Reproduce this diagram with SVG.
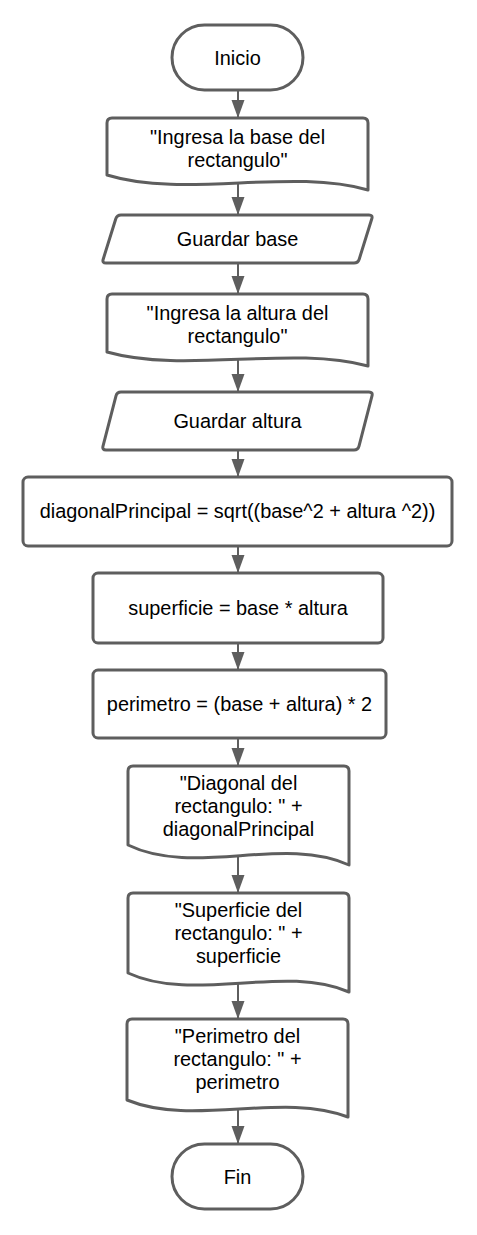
<svg xmlns="http://www.w3.org/2000/svg" width="477" height="1235" viewBox="0 0 477 1235">
<style>
.s{fill:#fff;stroke:#5e5e5e;stroke-width:3;stroke-linejoin:round}
.t{font-family:"Liberation Sans",Arial,sans-serif;font-size:19.9px;fill:#000;text-anchor:middle}
.c{stroke:#5e5e5e;stroke-width:2;fill:none}
</style>
<defs>
<marker id="ah" markerUnits="userSpaceOnUse" markerWidth="20" markerHeight="14" refX="18" refY="6.5" orient="auto">
<path d="M0,0 L18,6.5 L0,13 Z" fill="#5e5e5e"/>
</marker>
</defs>
<rect width="477" height="1235" fill="#fff"/>
<g id="connectors">
<line class="c" x1="238" y1="90" x2="238" y2="118" marker-end="url(#ah)"/>
<line class="c" x1="238" y1="183" x2="238" y2="215" marker-end="url(#ah)"/>
<line class="c" x1="238" y1="263" x2="238" y2="294" marker-end="url(#ah)"/>
<line class="c" x1="238" y1="359" x2="238" y2="392" marker-end="url(#ah)"/>
<line class="c" x1="238" y1="450" x2="238" y2="477" marker-end="url(#ah)"/>
<line class="c" x1="238" y1="546" x2="238" y2="573" marker-end="url(#ah)"/>
<line class="c" x1="238" y1="643" x2="238" y2="670" marker-end="url(#ah)"/>
<line class="c" x1="238" y1="738" x2="238" y2="766" marker-end="url(#ah)"/>
<line class="c" x1="238" y1="856" x2="238" y2="893" marker-end="url(#ah)"/>
<line class="c" x1="238" y1="983" x2="238" y2="1019" marker-end="url(#ah)"/>
<line class="c" x1="238" y1="1109" x2="238" y2="1144" marker-end="url(#ah)"/>
</g>
<g id="inicio">
<rect class="s" x="172" y="25" width="131" height="65" rx="32.5"/>
<text class="t" x="237.5" y="64.5">Inicio</text>
</g>
<g id="msg-base">
<path class="s" d="M107,123 Q107,118 112,118 H363 Q368,118 368,123 V190 C290,167.5 185,199 107,175 Z"/>
<text class="t" x="237.5" y="144">"Ingresa la base del</text>
<text class="t" x="237.5" y="166.5">rectangulo"</text>
</g>
<g id="guardar-base">
<path class="s" d="M121,215 H369 Q373,215 371.8,218.8 L359.2,259.2 Q358,263 354,263 H106 Q102,263 103.2,259.2 L115.8,218.8 Q117,215 121,215 Z"/>
<text class="t" x="237.5" y="246">Guardar base</text>
</g>
<g id="msg-altura">
<path class="s" d="M107,299 Q107,294 112,294 H363 Q368,294 368,299 V366 C290,345 185,374 107,352 Z"/>
<text class="t" x="237.5" y="320">"Ingresa la altura del</text>
<text class="t" x="237.5" y="342.5">rectangulo"</text>
</g>
<g id="guardar-altura">
<path class="s" d="M121,392 H369 Q373,392 372,395.9 L359,446.1 Q358,450 354,450 H106 Q102,450 103,446.1 L116,395.9 Q117,392 121,392 Z"/>
<text class="t" x="237.5" y="427.5">Guardar altura</text>
</g>
<g id="diagonal">
<rect class="s" x="23" y="477" width="429" height="69" rx="5"/>
<text class="t" x="237.5" y="518">diagonalPrincipal = sqrt((base^2 + altura ^2))</text>
</g>
<g id="superficie">
<rect class="s" x="93" y="573" width="290" height="70" rx="5"/>
<text class="t" x="238" y="615">superficie = base * altura</text>
</g>
<g id="perimetro">
<rect class="s" x="93" y="670" width="293" height="68" rx="5"/>
<text class="t" x="239.5" y="711">perimetro = (base + altura) * 2</text>
</g>
<g id="msg-diagonal">
<path class="s" d="M128,771 Q128,766 133,766 H344 Q349,766 349,771 V865 C283,835 194,877 128,845 Z"/>
<text class="t" x="238.5" y="790">"Diagonal del</text>
<text class="t" x="238.5" y="813">rectangulo: " +</text>
<text class="t" x="238.5" y="836">diagonalPrincipal</text>
</g>
<g id="msg-superficie">
<path class="s" d="M128,898 Q128,893 133,893 H344 Q349,893 349,898 V992 C283,963.5 194,1003.5 128,973 Z"/>
<text class="t" x="238.5" y="917">"Superficie del</text>
<text class="t" x="238.5" y="940">rectangulo: " +</text>
<text class="t" x="238.5" y="963">superficie</text>
</g>
<g id="msg-perimetro">
<path class="s" d="M127,1024 Q127,1019 132,1019 H343 Q348,1019 348,1024 V1117 C282,1091.5 193,1127 127,1100 Z"/>
<text class="t" x="237.5" y="1043">"Perimetro del</text>
<text class="t" x="237.5" y="1066">rectangulo: " +</text>
<text class="t" x="237.5" y="1089">perimetro</text>
</g>
<g id="fin">
<rect class="s" x="172" y="1144" width="131" height="65" rx="32.5"/>
<text class="t" x="237.5" y="1183.5">Fin</text>
</g>
</svg>
